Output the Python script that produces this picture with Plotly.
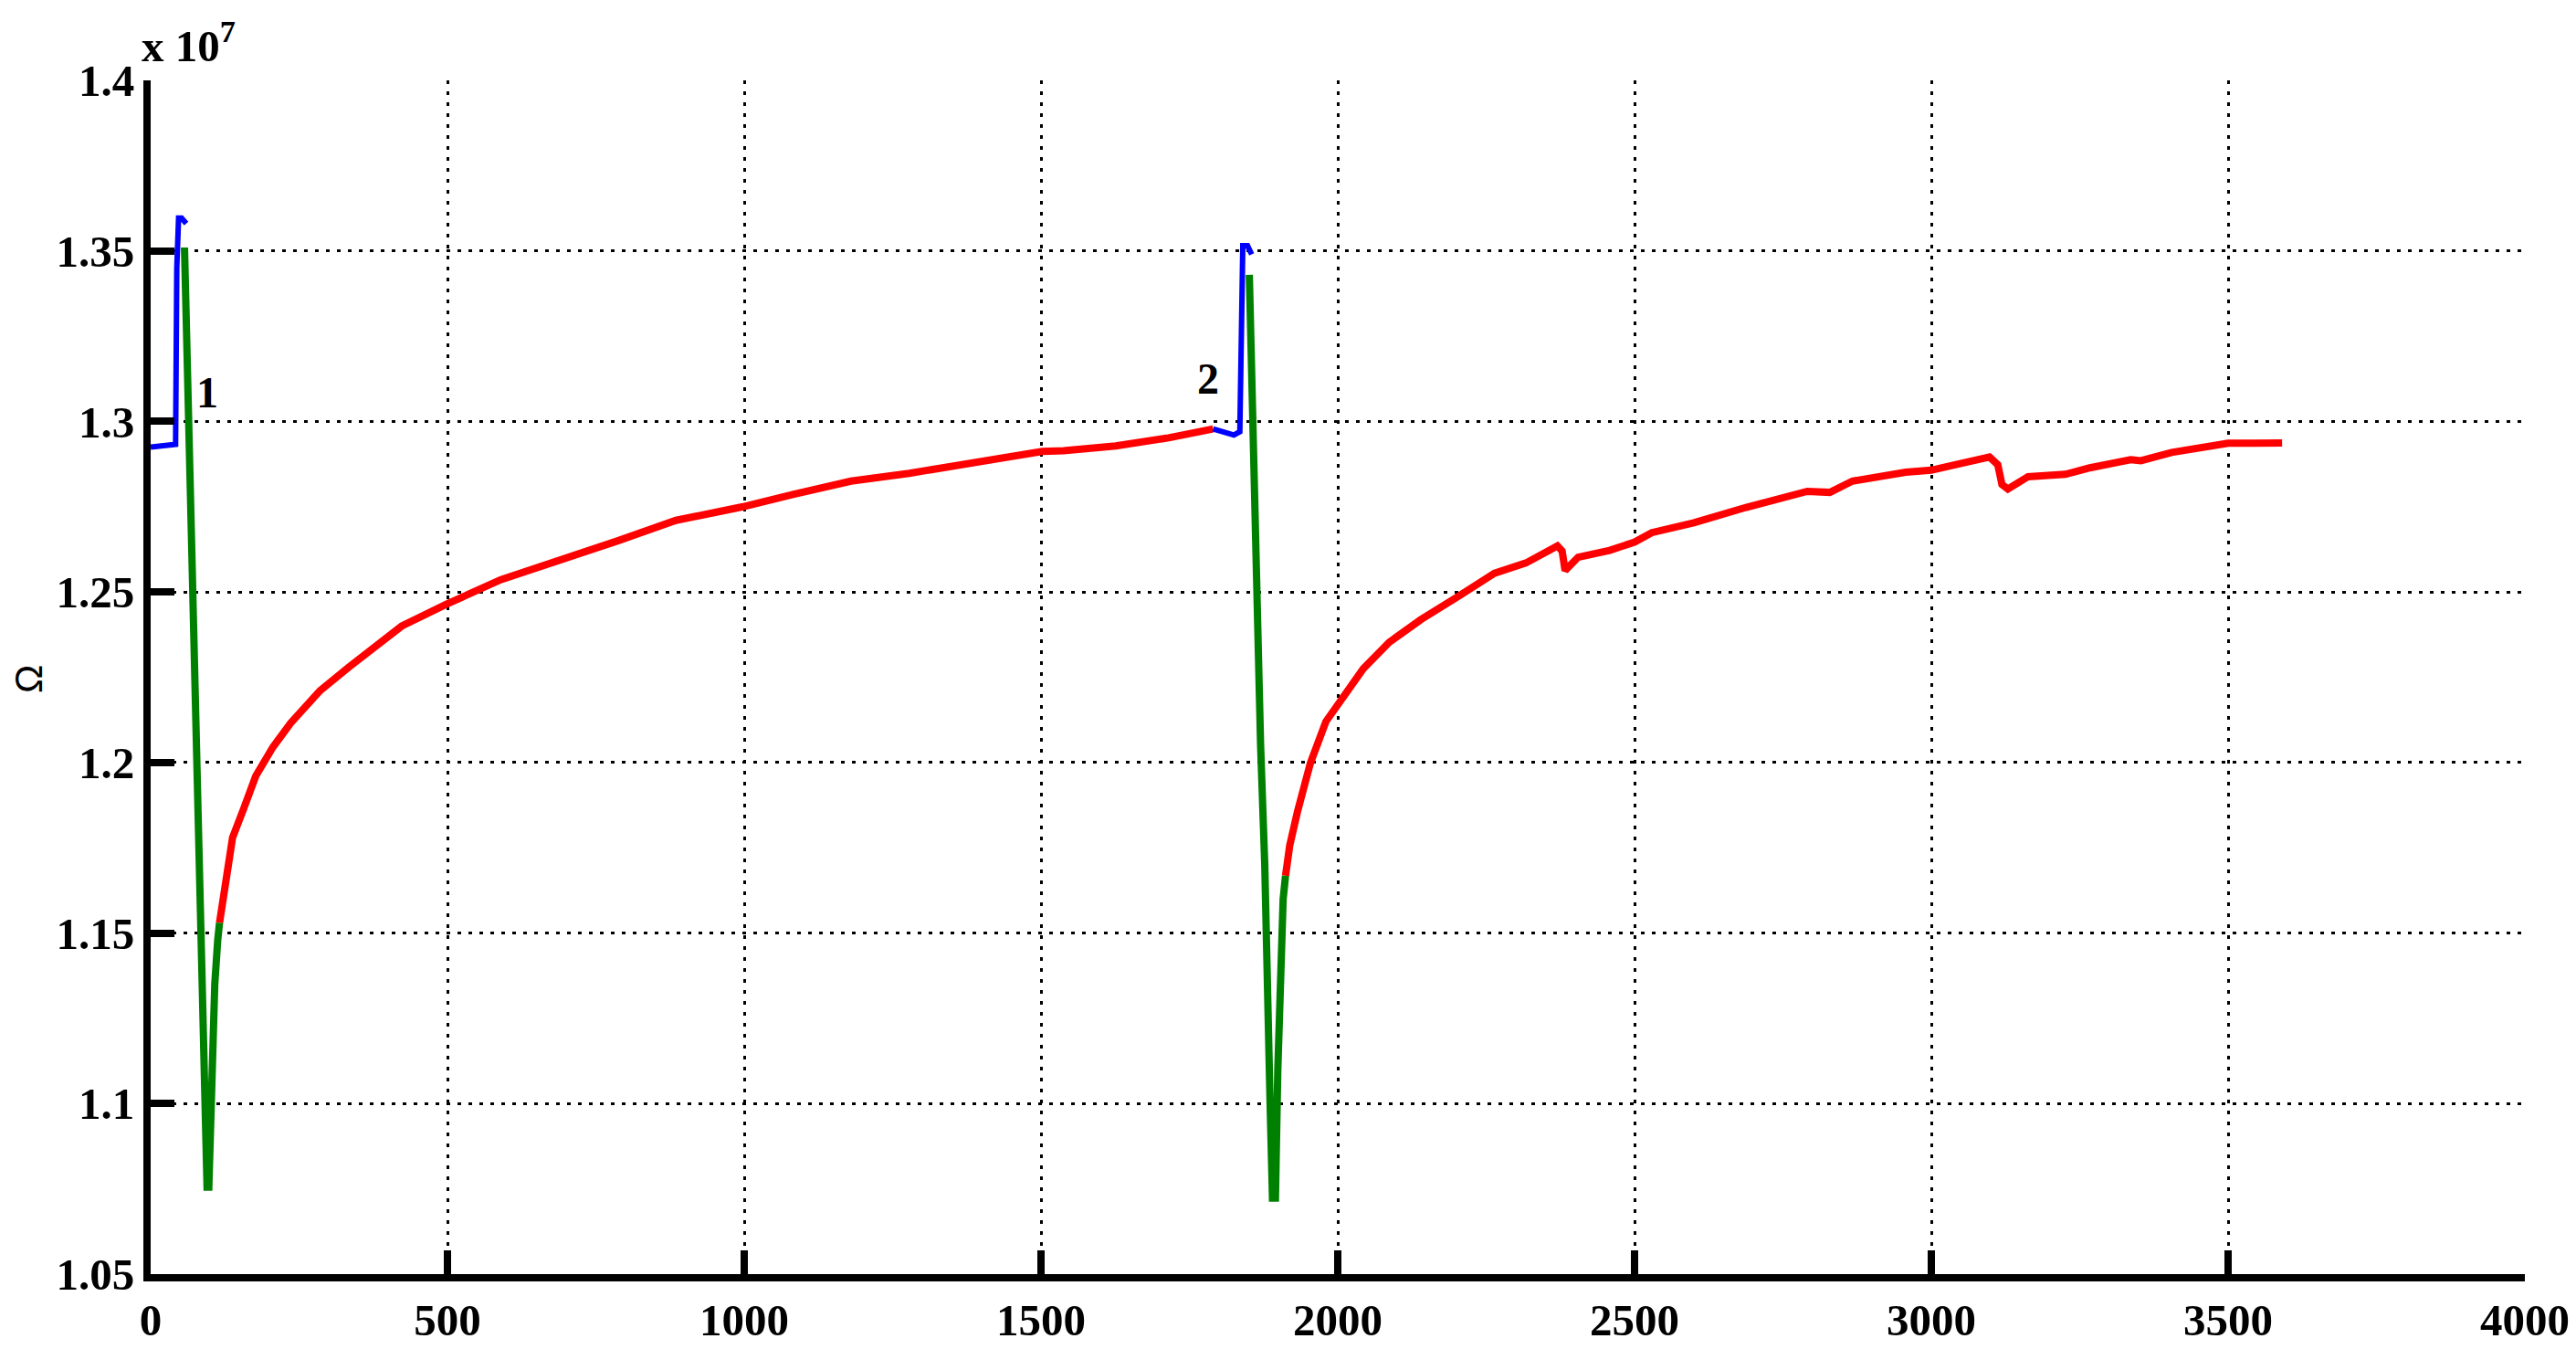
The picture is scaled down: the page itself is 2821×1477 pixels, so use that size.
import plotly.graph_objects as go

# values in units of 1e7 ohm
blue1_x = [0, 15, 30, 42, 44, 47, 52, 60]
blue1_y = [1.2925, 1.2928, 1.2931, 1.2933, 1.345, 1.3596, 1.3596, 1.358]

green1_x = [57, 60, 64, 70, 77, 84, 89, 92, 95, 98, 102, 108, 113, 116]
green1_y = [1.351, 1.33, 1.29, 1.245, 1.20, 1.16, 1.13, 1.10, 1.0755, 1.0755, 1.10, 1.135, 1.148, 1.153]

red1_x = [116, 138, 157, 177, 206, 236, 285, 334, 423, 498, 590, 688, 787, 885, 998,
          1082, 1180, 1278, 1377, 1450, 1502, 1538, 1626, 1715, 1790]
red1_y = [1.153, 1.178, 1.1866, 1.196, 1.2045, 1.2116, 1.221, 1.228, 1.24, 1.2464, 1.2536,
          1.259, 1.265, 1.271, 1.275, 1.2786, 1.2825, 1.2848, 1.2878, 1.2897, 1.2912, 1.2914,
          1.2928, 1.2952, 1.2978]

blue2_x = [1790, 1810, 1825, 1835, 1837, 1840, 1848, 1855]
blue2_y = [1.2978, 1.2968, 1.296, 1.297, 1.33, 1.3515, 1.3515, 1.349]

green2_x = [1851, 1854, 1858, 1863, 1870, 1877, 1882, 1886, 1890, 1895, 1899, 1904, 1908, 1912]
green2_y = [1.343, 1.32, 1.28, 1.245, 1.205, 1.17, 1.14, 1.10, 1.0723, 1.0723, 1.11, 1.145, 1.16, 1.1668]

red2_x = [1912, 1919, 1932, 1954, 1980, 2007, 2043, 2087, 2140, 2202, 2264, 2317, 2345, 2370,
          2378, 2383, 2405, 2458, 2500, 2529, 2600, 2688, 2791, 2829, 2867, 2957, 3000, 3039,
          3088, 3098, 3112, 3119, 3129, 3163, 3226, 3267, 3336, 3353, 3405, 3474, 3500, 3543, 3591]
red2_y = [1.1668, 1.1756, 1.1855, 1.1999, 1.212, 1.2187, 1.2275, 1.2353, 1.2419, 1.2486, 1.2555,
          1.2585, 1.2612, 1.2635, 1.262, 1.2563, 1.2602, 1.2622, 1.2646, 1.2674, 1.2703, 1.2748,
          1.2795, 1.2792, 1.2825, 1.2851, 1.2857, 1.2873, 1.2891, 1.2896, 1.2873, 1.2815, 1.2802,
          1.2838, 1.2845, 1.2864, 1.2888, 1.2885, 1.2909, 1.2931, 1.2936, 1.2936, 1.2937]

x_ticks = [0, 500, 1000, 1500, 2000, 2500, 3000, 3500, 4000]
y_ticks = [1.05, 1.1, 1.15, 1.2, 1.25, 1.3, 1.35, 1.4]
y_ticktext = ["1.05", "1.1", "1.15", "1.2", "1.25", "1.3", "1.35", "1.4"]

RED, BLUE, GREEN = "#ff0000", "#0000ff", "#008000"

fig = go.Figure()
segs = [(red1_x, red1_y, RED, 8), (red2_x, red2_y, RED, 8),
        (blue1_x, blue1_y, BLUE, 6), (blue2_x, blue2_y, BLUE, 6),
        (green1_x, green1_y, GREEN, 8), (green2_x, green2_y, GREEN, 8)]
for xs, ys, c, w in segs:
    fig.add_trace(go.Scatter(x=xs, y=ys, mode="lines",
                             line=dict(color=c, width=w), showlegend=False,
                             hoverinfo="skip"))

tickfont = dict(family="Liberation Serif", size=49, color="black", weight="bold")
axis_common = dict(showline=True, linecolor="black", linewidth=8, mirror=False,
                   ticks="inside", ticklen=26, tickwidth=8, tickcolor="black",
                   showgrid=True, gridcolor="black", gridwidth=3, griddash="4px,8px",
                   zeroline=False, tickfont=tickfont)

fig.update_xaxes(range=[0, 4000], tickvals=x_ticks, ticktext=[str(v) for v in x_ticks],
                 **axis_common)
fig.update_yaxes(range=[1.05, 1.4], tickvals=y_ticks, ticktext=y_ticktext, **axis_common)

fig.add_annotation(text="x 10<sup>7</sup>", xref="paper", yref="paper", x=0, y=1,
                   xanchor="left", yanchor="bottom", showarrow=False, yshift=8, xshift=-12,
                   font=dict(family="Liberation Serif", size=49, color="black", weight="bold"))
fig.add_annotation(text="Ω", xref="paper", yref="paper", x=0, y=0.498, xshift=-134,
                   xanchor="center", yanchor="middle", textangle=-90, showarrow=False,
                   font=dict(family="Liberation Sans", size=42, color="black"))
fig.add_annotation(text="1", x=96, y=1.3085, showarrow=False,
                   font=dict(family="Liberation Serif", size=48, color="black", weight="bold"))
fig.add_annotation(text="2", x=1782, y=1.3125, showarrow=False,
                   font=dict(family="Liberation Serif", size=48, color="black", weight="bold"))

fig.update_layout(width=2821, height=1477, paper_bgcolor="white", plot_bgcolor="white",
                  margin=dict(l=157, r=64, t=80, b=84))

fig.write_html("out.html")
